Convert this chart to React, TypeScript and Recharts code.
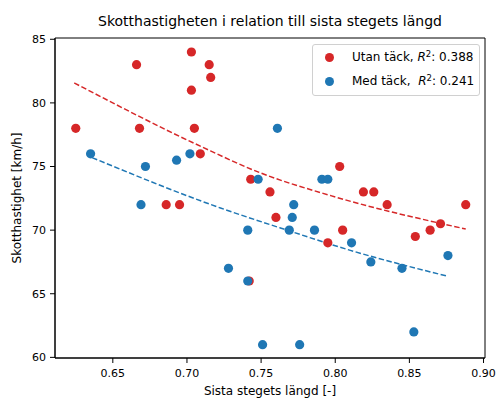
import React from 'react';
import {
  ComposedChart,
  Scatter,
  Line,
  XAxis,
  YAxis,
  ReferenceArea,
} from 'recharts';

// measured points, "utan täck" (red) and "med täck" (blue)
const redX = [0.625, 0.666, 0.668, 0.686, 0.695, 0.703, 0.703, 0.705, 0.709, 0.715, 0.716, 0.742, 0.743, 0.756, 0.760, 0.795, 0.803, 0.805, 0.819, 0.826, 0.835, 0.854, 0.864, 0.871, 0.888];
const redY = [78, 83, 78, 72, 72, 84, 81, 78, 76, 83, 82, 66, 74, 73, 71, 69, 75, 70, 73, 73, 72, 69.5, 70, 70.5, 72];

const blueX = [0.635, 0.669, 0.672, 0.693, 0.702, 0.728, 0.741, 0.741, 0.748, 0.751, 0.761, 0.769, 0.771, 0.772, 0.776, 0.786, 0.791, 0.795, 0.811, 0.824, 0.845, 0.853, 0.876];
const blueY = [76, 72, 75, 75.5, 76, 67, 70, 66, 74, 61, 78, 70, 71, 72, 61, 70, 74, 74, 69, 67.5, 67, 62, 68];

// fitted curves
const redFitX = [0.624, 0.709, 0.7495, 0.797, 0.888];
const redFitY = [81.57, 76.6, 74.5, 72.71, 70.09];
const blueFitX = [0.636, 0.7226, 0.763, 0.8102, 0.876];
const blueFitY = [75.7, 71.74, 70.17, 68.41, 66.37];

const xTicks = [0.65, 0.7, 0.75, 0.8, 0.85, 0.9];
const yTicks = [60, 65, 70, 75, 80, 85];

const RED = '#d62728';
const BLUE = '#1f77b4';
const FONT = '"DejaVu Sans", sans-serif';

const zip = (xs: number[], ys: number[]) => xs.map((x, i) => ({ x, y: ys[i] }));

const redData = zip(redX, redY);
const blueData = zip(blueX, blueY);
const redFit = zip(redFitX, redFitY);
const blueFit = zip(blueFitX, blueFitY);

const dot = (color: string) => (props: any) =>
  <circle cx={props.cx} cy={props.cy} r={4.6} fill={color} />;

const Legend = () => (
  <div
    style={{
      position: 'absolute',
      left: 312,
      top: 44,
      width: 166,
      height: 50,
      border: '1px solid #d0d0d0',
      borderRadius: 3,
      background: 'rgba(255,255,255,0.8)',
      fontFamily: FONT,
      fontSize: 12,
      color: '#000',
    }}
  >
    {[
      { c: RED, label: 'Utan täck, ', r: ': 0.388' },
      { c: BLUE, label: 'Med täck,  ', r: ': 0.241' },
    ].map((e, i) => (
      <div key={i} style={{ position: 'absolute', left: 0, top: 4 + i * 24, height: 17, whiteSpace: 'pre' }}>
        <span style={{ position: 'absolute', left: 12, top: 4, width: 9, height: 9, borderRadius: '50%', background: e.c }} />
        <span style={{ position: 'absolute', left: 39, top: 0, lineHeight: '17px' }}>
          {e.label}
          <i>R</i>
          <sup style={{ fontSize: 8.5, verticalAlign: 'top', lineHeight: '10px' }}>2</sup>
          {e.r}
        </span>
      </div>
    ))}
  </div>
);

export default function App() {
  return (
    <div style={{ position: 'absolute', left: 0, top: 0, width: 496, height: 398, background: '#fff' }}>
      <div
        style={{
          position: 'absolute',
          left: 55,
          width: 430,
          top: 13,
          textAlign: 'center',
          fontFamily: FONT,
          fontSize: 14,
          color: '#000',
        }}
      >
        Skotthastigheten i relation till sista stegets längd
      </div>
      <ComposedChart width={496} height={398} margin={{ top: 38, right: 11, bottom: 0, left: 0 }}>
        <XAxis
          dataKey="x"
          type="number"
          domain={[0.611, 0.901]}
          allowDataOverflow
          ticks={xTicks}
          tickFormatter={(v: number) => v.toFixed(2)}
          height={40}
          tickSize={5}
          tickMargin={6}
          stroke="#000"
          tick={{ fill: '#000', fontSize: 11, fontFamily: FONT }}
          label={{ value: 'Sista stegets längd [-]', position: 'insideBottom', offset: 3, fill: '#000', fontSize: 12, fontFamily: FONT }}
        />
        <YAxis
          dataKey="y"
          type="number"
          domain={[59.95, 85.1]}
          allowDataOverflow
          ticks={yTicks}
          width={55}
          tickSize={5}
          tickMargin={4}
          stroke="#000"
          tick={{ fill: '#000', fontSize: 11, fontFamily: FONT }}
          label={{
            value: 'Skotthastighet [km/h]',
            angle: -90,
            position: 'insideLeft',
            offset: 17,
            fill: '#000',
            fontSize: 12,
            fontFamily: FONT,
            style: { textAnchor: 'middle' },
          }}
        />
        <ReferenceArea x1={0.611} x2={0.901} y1={59.95} y2={85.1} fill="none" stroke="#000" strokeWidth={1} />
        <Scatter data={redData} fill={RED} shape={dot(RED)} isAnimationActive={false} />
        <Scatter data={blueData} fill={BLUE} shape={dot(BLUE)} isAnimationActive={false} />
        <Line data={redFit} dataKey="y" type="monotone" stroke={RED} strokeWidth={1.5} strokeDasharray="5.5 2.5" dot={false} activeDot={false} isAnimationActive={false} />
        <Line data={blueFit} dataKey="y" type="monotone" stroke={BLUE} strokeWidth={1.5} strokeDasharray="5.5 2.5" dot={false} activeDot={false} isAnimationActive={false} />
      </ComposedChart>
      <Legend />
    </div>
  );
}
